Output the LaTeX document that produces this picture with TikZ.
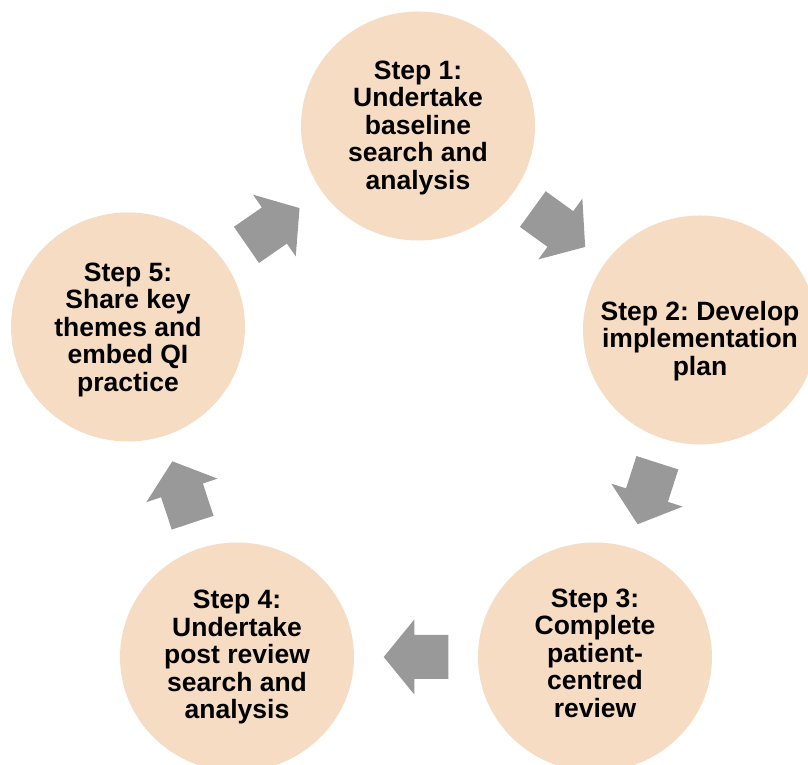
\documentclass[tikz,border=0pt]{standalone}
\usepackage{fontspec}
\setmainfont{Liberation Sans}
\usetikzlibrary{shapes.geometric,calc}
\definecolor{peach}{RGB}{245,220,195}
\definecolor{arrowgray}{RGB}{153,153,153}
\frenchspacing
\begin{document}
\begin{tikzpicture}[x=1pt,y=1pt,
  stepcircle/.style={ellipse, fill=peach, draw=none, minimum width=234pt, minimum height=229pt, inner sep=0pt},
  steptext/.style={align=center, font=\fontsize{26.5}{27.5}\selectfont\bfseries\frenchspacing, inner sep=0pt, text=black},
  blockarrow/.pic={\fill[arrowgray] (-32.3,-22) -- (1.7,-22) -- (1.7,-37.5) -- (32.3,0) -- (1.7,37.5) -- (1.7,22) -- (-32.3,22) -- cycle;}
]
\useasboundingbox (0,0) rectangle (808,765);
\clip (0,0) rectangle (808,765);
\node[stepcircle] (s1) at (418,639) {};
\node[stepcircle] (s2) at (700,435) {};
\node[stepcircle] (s3) at (595,108) {};
\node[stepcircle] (s4) at (237,108) {};
\node[stepcircle] (s5) at (128,438) {};
\node[steptext, yshift=-2pt] (t1) at (s1) {Step 1:\\Undertake\\baseline\\search and\\analysis};
\node[steptext, yshift=-11pt] (t2) at (s2) {Step 2: Develop\\implementation\\plan};
\node[steptext, yshift=4pt] (t3) at (s3) {Step 3:\\Complete\\patient-\\centred\\review};
\node[steptext] (t4) at (s4) {Step 4:\\Undertake\\post review\\search and\\analysis};
\node[steptext, yshift=-3pt] (t5) at (s5) {Step 5:\\Share key\\themes and\\embed QI\\practice};
\foreach \a/\b in {s1/s2, s2/s3, s3/s4, s4/s5, s5/s1}{
  \path let \p1=($(\b)-(\a)$), \n1={atan2(\y1,\x1)} in ($(\a)!0.5!(\b)$) pic[rotate=\n1] {blockarrow};
}
\end{tikzpicture}
\end{document}
